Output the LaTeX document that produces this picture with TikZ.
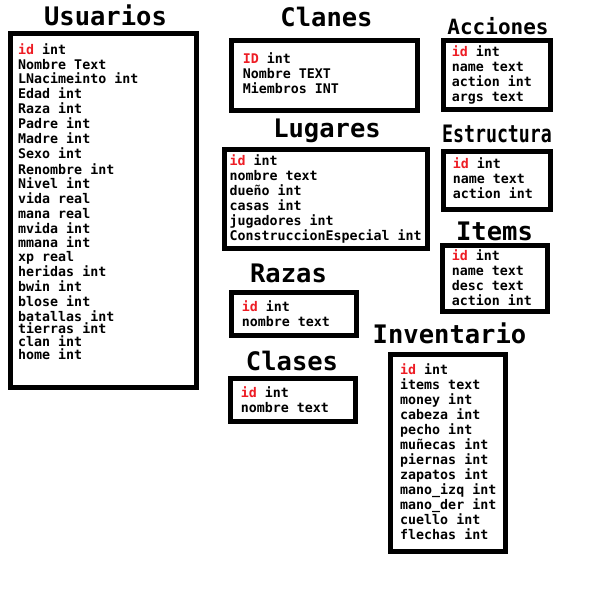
\documentclass[tikz,border=0pt]{standalone}
\usepackage{fontspec}
\setmonofont{DejaVu Sans Mono}
\definecolor{db_red}{RGB}{237, 28, 36}
\tikzstyle{tbl}=[rectangle,draw=black,line width=5pt,inner sep=0pt]
\tikzstyle{ttl}=[anchor=base,inner sep=0pt,
  font=\ttfamily\bfseries\fontsize{25.5}{26}\selectfont]
\tikzstyle{fld}=[anchor=base west,inner sep=0pt,text height=7.5pt,text depth=1.5pt,
  font=\ttfamily\bfseries\fontsize{13.3}{15}\selectfont]
\newcommand{\pk}[1]{\textcolor{db_red}{#1}}

\begin{document}
\begin{tikzpicture}[x=1pt,y=-1pt]
    \useasboundingbox (0,0) rectangle (593,604);
    % tables
    \node [style=tbl,minimum width=186pt,minimum height=354pt] (usr) at (103.5, 210.5) {};
    \node [style=tbl,minimum width=186pt,minimum height=70pt] (cln) at (324.5, 75.5) {};
    \node [style=tbl,minimum width=203pt,minimum height=99pt] (lug) at (326, 199) {};
    \node [style=tbl,minimum width=107pt,minimum height=69pt] (acc) at (497, 75) {};
    \node [style=tbl,minimum width=107pt,minimum height=58pt] (est) at (497, 180.5) {};
    \node [style=tbl,minimum width=105pt,minimum height=66pt] (itm) at (495, 278.5) {};
    \node [style=tbl,minimum width=125pt,minimum height=43pt] (raz) at (294, 314) {};
    \node [style=tbl,minimum width=125pt,minimum height=43pt] (cls) at (293, 400) {};
    \node [style=tbl,minimum width=115pt,minimum height=197pt] (inv) at (448, 453) {};
    % titles
    \node [style=ttl] (usr-t) at (105.5, 26) {Usuarios};
    \node [style=ttl] (cln-t) at (326.5, 27) {Clanes};
    \node [style=ttl] (lug-t) at (327, 138) {Lugares};
    \node [style=ttl,font=\ttfamily\bfseries\fontsize{21}{22}\selectfont] (acc-t) at (498, 35) {Acciones};
    \node [style=ttl,xscale=0.76,transform shape,font=\ttfamily\bfseries\fontsize{24}{25}\selectfont] (est-t) at (497, 142.7) {Estructura};
    \node [style=ttl] (itm-t) at (494.5, 240.7) {Items};
    \node [style=ttl] (raz-t) at (288.5, 282) {Razas};
    \node [style=ttl] (cls-t) at (292, 370.7) {Clases};
    \node [style=ttl,font=\ttfamily\bfseries\fontsize{25.5}{26}\selectfont] (inv-t) at (449.5, 343.3) {Inventario};
    % fields
    \foreach \y/\t [count=\i] in {55/{\pk{id} int},70/{Nombre Text},84/{LNacimeinto int},
        99/{Edad int},114/{Raza int},129/{Padre int},144/{Madre int},159/{Sexo int},
        174/{Renombre int},188/{Nivel int},203/{vida real},218/{mana real},233/{mvida int},
        247/{mmana int},261/{xp real},276/{heridas int},291/{bwin int},306/{blose int},
        321/{batallas int},333.5/{tierras int},346/{clan int},359.5/{home int}}
      \node [style=fld] (usr\i) at (18, \y) {\t};
    \foreach \y/\t [count=\i] in {64/{\pk{ID} int},79/{Nombre TEXT},94/{Miembros INT}}
      \node [style=fld] (cln\i) at (242.7, \y) {\t};
    \foreach \y/\t [count=\i] in {165/{\pk{id} int},180/{nombre text},195/{dueño int},
        210/{casas int},225/{jugadores int},240/{ConstruccionEspecial int}}
      \node [style=fld] (lug\i) at (229.3, \y) {\t};
    \foreach \y/\t [count=\i] in {56.7/{\pk{id} int},71.7/{name text},86.7/{action int},
        101.7/{args text}}
      \node [style=fld] (acc\i) at (451.7, \y) {\t};
    \foreach \y/\t [count=\i] in {168.3/{\pk{id} int},183.3/{name text},198.3/{action int}}
      \node [style=fld] (est\i) at (452.7, \y) {\t};
    \foreach \y/\t [count=\i] in {260.7/{\pk{id} int},275.7/{name text},290.7/{desc text},
        305.7/{action int}}
      \node [style=fld] (itm\i) at (451.7, \y) {\t};
    \foreach \y/\t [count=\i] in {311.7/{\pk{id} int},326.7/{nombre text}}
      \node [style=fld] (raz\i) at (241.7, \y) {\t};
    \foreach \y/\t [count=\i] in {397.7/{\pk{id} int},412.7/{nombre text}}
      \node [style=fld] (cls\i) at (240.7, \y) {\t};
    \foreach \t [count=\i] in {{\pk{id} int},{items text},{money int},{cabeza int},
        {pecho int},{muñecas int},{piernas int},{zapatos int},{mano\_izq int},
        {mano\_der int},{cuello int},{flechas int}}
      \node [style=fld] (inv\i) at (400, 359.3+15*\i) {\t};
\end{tikzpicture}
\end{document}
